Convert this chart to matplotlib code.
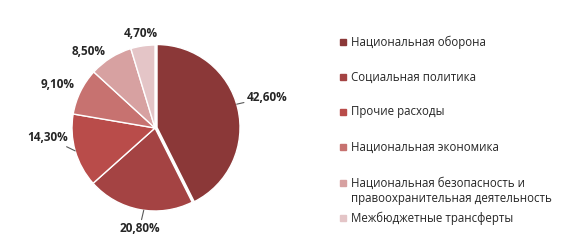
import matplotlib.pyplot as plt
import matplotlib.patches as mpatches
import numpy as np

# Данные
categories = ["Национальная оборона", "Социальная политика", "Прочие расходы",
              "Национальная экономика",
              "Национальная безопасность и\nправоохранительная деятельность",
              "Межбюджетные трансферты"]
shares = [42.6, 20.8, 14.3, 9.1, 8.5, 4.7]
pct_labels = ["42,60%", "20,80%", "14,30%", "9,10%", "8,50%", "4,70%"]

colors = ["#8B3838", "#A44343", "#B94C4A", "#C77270", "#D7A1A1", "#E4C5C7"]
explode = [0.025, 0, 0, 0, 0, 0]
# поправки для подписей: (сдвиг угла, радиус)
label_pos = [(2, 1.40), (2, 1.23), (-11, 1.30), (2, 1.29), (9, 1.22), (0, 1.15)]
leader = [True, True, True, False, False, False]

plt.rcParams['font.family'] = ['Open Sans', 'DejaVu Sans']

fig = plt.figure(figsize=(5.8, 2.48), dpi=100)
ax = fig.add_axes([35 / 580, 0, 240 / 580, 240 / 248])

wedges, _ = ax.pie(shares, colors=colors, startangle=90, counterclock=False,
                   explode=explode, radius=1.0,
                   wedgeprops=dict(edgecolor='white', linewidth=1.0))
lim = 120 / 83
ax.set_xlim(-lim, lim)
ax.set_ylim(-lim, lim)
ax.set_aspect('equal')
ax.axis('off')

for w, lab, (da, r), ld in zip(wedges, pct_labels, label_pos, leader):
    mid = (w.theta1 + w.theta2) / 2
    cx, cy = w.center
    ang = np.deg2rad(mid + da)
    tx, ty = r * np.cos(ang), r * np.sin(ang)
    if ld:
        m = np.deg2rad(mid + max(da, 0) * 1.5)
        ex, ey = cx + 1.0 * np.cos(m), cy + 1.0 * np.sin(m)
        ax.annotate(lab, xy=(ex, ey), xytext=(tx, ty), ha='center', va='center',
                    fontsize=8.5, fontweight='bold', color='#262626',
                    arrowprops=dict(arrowstyle='-', color='#595959', lw=0.8,
                                    shrinkA=9, shrinkB=0))
    else:
        ax.text(tx, ty, lab, ha='center', va='center', fontsize=8.5,
                fontweight='bold', color='#262626')

# Легенда
legend_y = [42, 77, 112, 147, 191, 218]
for lab, c, y in zip(categories, colors, legend_y):
    nl = lab.count("\n")
    ymark = y - 8 * nl
    fig.patches.append(mpatches.Rectangle((340 / 580, 1 - (ymark + 3) / 248),
                                          6 / 580, 6 / 248, color=c,
                                          transform=fig.transFigure))
    fig.text(351 / 580, 1 - y / 248, lab, ha='left', va='center', fontsize=8.3,
             color='#262626', linespacing=1.25)

fig.savefig("out.png", dpi=100)
